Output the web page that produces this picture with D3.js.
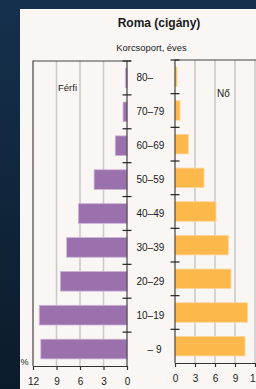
<!DOCTYPE html>
<html>
<head>
<meta charset="utf-8">
<script src="https://cdn.jsdelivr.net/npm/d3@7"></script>
<style>
body { margin: 0; overflow: hidden; background: #0f2136; }
text { font-family: "Liberation Sans", Arial, sans-serif; fill: #1a1a1a; }
</style>
</head>
<body>
<script>
// size of the page
var w = 256, h = 389;

// age groups, top to bottom
var ageGroups = ["80–", "70–79", "60–69", "50–59", "40–49", "30–39", "20–29", "10–19", "\u2007\u2007– 9"];
// percent of men / women in each group
var maleValues = [0.2, 0.5, 1.5, 4.2, 6.2, 7.7, 8.5, 11.2, 11.0];
var femaleValues = [0.3, 0.75, 2.0, 4.35, 6.15, 8.0, 8.4, 10.9, 10.5];
var xTicks = [0, 3, 6, 9, 12];

window.onload = function(){
    var svg = d3.select("body").append("svg")
        .attr("width", w)
        .attr("height", h);

    // dark backdrop
    var grad = svg.append("defs").append("linearGradient")
        .attr("id", "bg").attr("x1", 0).attr("y1", 0).attr("x2", 0).attr("y2", 1);
    grad.append("stop").attr("offset", "0%").attr("stop-color", "#15304d");
    grad.append("stop").attr("offset", "100%").attr("stop-color", "#0c1b2a");
    svg.append("rect").attr("width", w).attr("height", h).style("fill", "url(#bg)");

    // light panel
    svg.append("rect")
        .attr("x", 20).attr("y", 9)
        .attr("width", w - 20).attr("height", h - 9)
        .style("fill", "#f9f6f3");

    // scales
    var xMale = d3.scaleLinear().domain([0, 12]).range([127, 33]);
    var xFemale = d3.scaleLinear().domain([0, 12]).range([175, 255]);
    var yMale = d3.scaleBand().domain(ageGroups).range([61, 366]).paddingInner(0.42).paddingOuter(0.21);
    var yFemale = d3.scaleBand().domain(ageGroups).range([60, 363]).paddingInner(0.42).paddingOuter(0.21);

    // grid lines
    svg.append("g").selectAll("line")
        .data([3, 6, 9])
        .join("line")
        .attr("x1", function(d){ return xMale(d); })
        .attr("x2", function(d){ return xMale(d); })
        .attr("y1", 61).attr("y2", 366)
        .style("stroke", "#c9c9c9").style("stroke-width", 1.5);
    svg.append("g").selectAll("line")
        .data([3, 6, 9, 12])
        .join("line")
        .attr("x1", function(d){ return xFemale(d); })
        .attr("x2", function(d){ return xFemale(d); })
        .attr("y1", 60).attr("y2", 363)
        .style("stroke", "#c9c9c9").style("stroke-width", 1.5);

    // frame of the left plot
    svg.append("path")
        .attr("d", "M" + xMale(12) + "," + 366 + "V61H" + (xMale(0) + 4))
        .style("fill", "none").style("stroke", "#444").style("stroke-width", 1.2);
    // top line of the right plot
    svg.append("line")
        .attr("x1", xFemale(0)).attr("x2", w)
        .attr("y1", 60).attr("y2", 60)
        .style("stroke", "#444").style("stroke-width", 1.2);

    // bars
    svg.append("g").selectAll("rect")
        .data(maleValues)
        .join("rect")
        .attr("x", function(d){ return xMale(d); })
        .attr("y", function(d, i){ return yMale(ageGroups[i]); })
        .attr("width", function(d){ return xMale(0) - xMale(d); })
        .attr("height", yMale.bandwidth())
        .style("fill", "#9a70ad")
        .style("stroke", "#cdb3d8").style("stroke-width", 0.8);
    svg.append("g").selectAll("rect")
        .data(femaleValues)
        .join("rect")
        .attr("x", xFemale(0))
        .attr("y", function(d, i){ return yFemale(ageGroups[i]); })
        .attr("width", function(d){ return xFemale(d) - xFemale(0); })
        .attr("height", yFemale.bandwidth())
        .style("fill", "#fdb84b")
        .style("stroke", "#fbd8a0").style("stroke-width", 0.8);

    // vertical axes with crossing ticks at group borders
    function catAxis(x, scale){
        var step = scale.step();
        var r = scale.range();
        var g = svg.append("g");
        g.append("line")
            .attr("x1", x).attr("x2", x).attr("y1", r[0]).attr("y2", r[1])
            .style("stroke", "#444").style("stroke-width", 1.2);
        g.selectAll("line.tick")
            .data(d3.range(ageGroups.length))
            .join("line")
            .attr("class", "tick")
            .attr("x1", x - 4.5).attr("x2", x + 4.5)
            .attr("y1", function(i){ return r[0] + i * step; })
            .attr("y2", function(i){ return r[0] + i * step; })
            .style("stroke", "#222").style("stroke-width", 1.2);
    }
    catAxis(xMale(0), yMale);
    catAxis(xFemale(0), yFemale);

    // bottom axes
    function bottomAxis(scale, y){
        var g = svg.append("g")
            .attr("transform", "translate(0," + y + ")")
            .call(d3.axisBottom(scale).tickValues(xTicks).tickSize(4).tickPadding(8).tickSizeOuter(0));
        g.select(".domain").style("stroke", "#333").style("stroke-width", 1.2);
        g.selectAll(".tick line").style("stroke", "#333").style("stroke-width", 1.2);
        g.selectAll("text")
            .style("font-family", "'Liberation Sans', Arial, sans-serif")
            .style("font-size", "10px")
            .style("fill", "#1a1a1a");
    }
    bottomAxis(xMale, 366);
    bottomAxis(xFemale, 363);

    // age labels between the plots
    svg.append("g").selectAll("text")
        .data(ageGroups)
        .join("text")
        .attr("x", 136.5)
        .attr("y", function(d){ return yMale(d) + yMale.bandwidth() / 2; })
        .attr("dy", "0.35em")
        .style("font-size", "10px")
        .style("white-space", "pre")
        .text(function(d){ return d; });

    // titles and labels
    svg.append("text").attr("x", 159).attr("y", 26.5)
        .attr("text-anchor", "middle")
        .style("font-size", "12px").style("font-weight", "bold")
        .text("Roma (cigány)");
    svg.append("text").attr("x", 151.5).attr("y", 50.5)
        .attr("text-anchor", "middle")
        .style("font-size", "9.4px")
        .text("Korcsoport, éves");
    svg.append("text").attr("x", 67.5).attr("y", 91)
        .attr("text-anchor", "middle")
        .style("font-size", "9.5px")
        .text("Férfi");
    svg.append("text").attr("x", 223.5).attr("y", 97)
        .attr("text-anchor", "middle")
        .style("font-size", "10px")
        .text("Nő");
    svg.append("text").attr("x", 20.5).attr("y", 364.5)
        .style("font-size", "9px")
        .text("%");
};
</script>
</body>
</html>
